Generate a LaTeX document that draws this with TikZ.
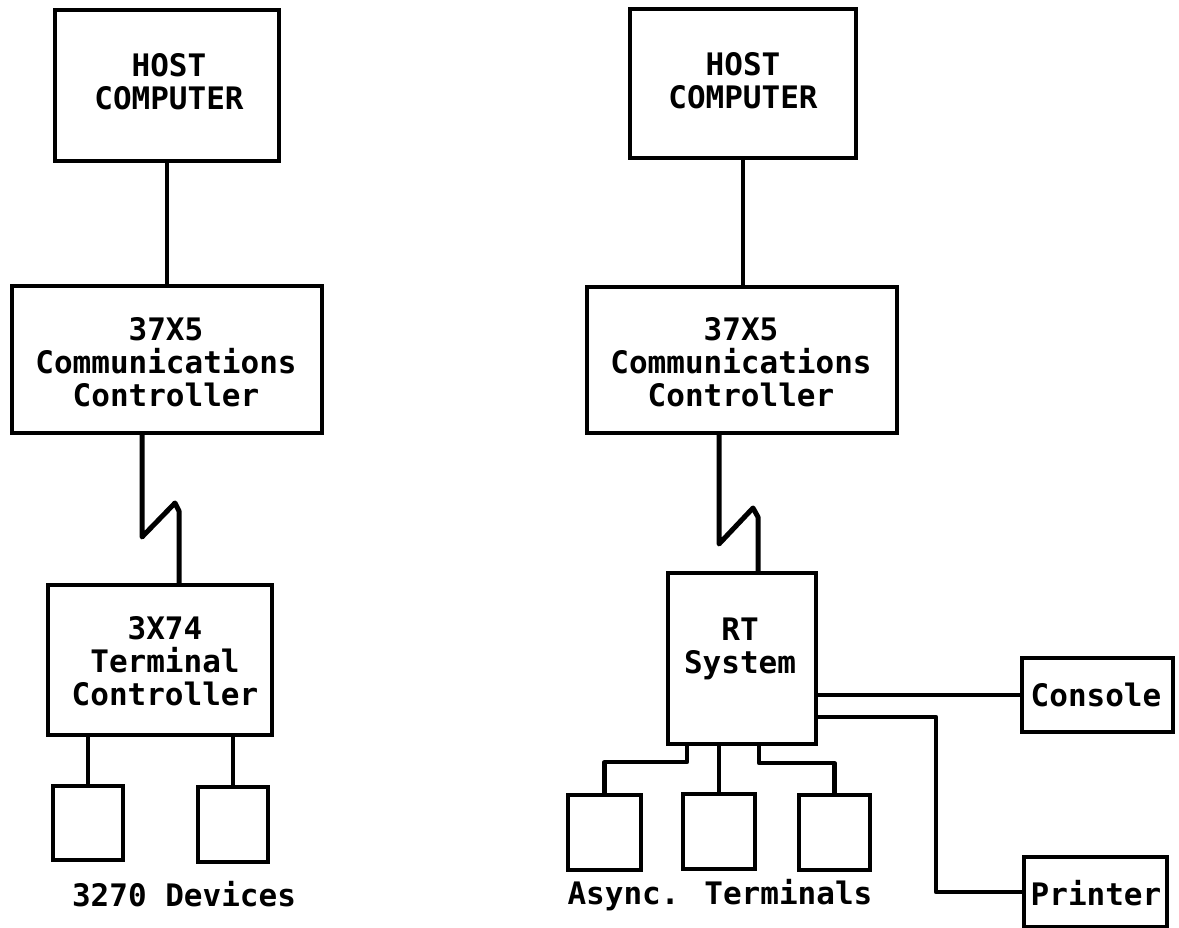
\documentclass[tikz,border=0pt]{standalone}
\usepackage{fontspec}
\newfontfamily\labelfont{DejaVu Sans Mono Bold}
\usetikzlibrary{calc}
\begin{document}
\begin{tikzpicture}[x=1pt,y=-1pt,
  box/.style={draw=black,line width=4pt,inner sep=0pt,anchor=center},
  txt/.style={inner sep=0pt,align=center,font=\labelfont\fontsize{31}{33}\selectfont},
  wire/.style={draw=black,line width=4.2pt,line join=round,line cap=round},
  zig/.style={wire,line width=5pt}]
\useasboundingbox (0,0) rectangle (1179,928);
\newcommand{\boxat}[5]{\node[box,minimum width=#3pt-#2pt,minimum height=#5pt-#4pt] (#1) at ({(#2+#3)/2},{(#4+#5)/2}) {};}
\boxat{h1}{55}{279}{10}{161}
\boxat{c1}{12}{322}{286}{433}
\boxat{t1}{48}{272}{585}{735}
\boxat{d1}{53}{123}{786}{860}
\boxat{d2}{198}{268}{787}{862}
\boxat{h2}{630}{856}{9}{158}
\boxat{c2}{587}{897}{287}{433}
\boxat{rt}{668}{816}{573}{744}
\boxat{a1}{568}{641}{795}{870}
\boxat{a2}{683}{755}{794}{869}
\boxat{a3}{799}{870}{795}{870}
\boxat{con}{1022}{1173}{658}{732}
\boxat{pri}{1024}{1167}{857}{927}
\node[txt] (h1t) at (169,82) {HOST\\COMPUTER};
\node[txt] (h2t) at (743,81) {HOST\\COMPUTER};
\node[txt] (c1t) at (166,362) {37X5\\Communications\\Controller};
\node[txt] (c2t) at (741,362) {37X5\\Communications\\Controller};
\node[txt] (t1t) at (165,661) {3X74\\Terminal\\Controller};
\node[txt] (rtt) at (740,648.5) {RT\\System};
\node[txt] (cont) at (1096,695) {Console};
\node[txt] (prit) at (1096,893) {Printer};
\node[txt] (l1) at (184,894) {3270 Devices};
\node[txt] (l2) at (720,895) {Async. Terminals};
% host to controller
\draw[wire] (h1.south) -- (c1.north);
\draw[wire] (h2.south) -- (h2.south |- c2.north);
% zigzag links
\coordinate (z1a) at (142,537); \coordinate (z1b) at (175,503); \coordinate (z1c) at (179,511);
\draw[zig] (z1a |- c1.south) -- (z1a) -- (z1b) -- (z1c) -- (z1c |- t1.north);
\coordinate (z2a) at (719,544); \coordinate (z2b) at (753,508); \coordinate (z2c) at (758,517);
\draw[zig] (z2a |- c2.south) -- (z2a) -- (z2b) -- (z2c) -- (z2c |- rt.north);
% devices
\draw[wire] (d1.north |- t1.south) -- (d1.north);
\draw[wire] (d2.north |- t1.south) -- (d2.north);
% async terminals
\coordinate (e1) at (687,762);
\coordinate (e3) at (759,763);
\draw[wire] (e1 |- rt.south) -- (e1) -- (e1 -| a1.north) -- (a1.north);
\draw[wire] (a2.north |- rt.south) -- (a2.north);
\draw[wire] (e3 |- rt.south) -- (e3) -- (e3 -| a3.north) -- (a3.north);
% console and printer
\coordinate (p1) at (936,717);
\draw[wire] (rt.east |- con.west) -- (con.west);
\draw[wire] (rt.east |- p1) -- (p1) -- (p1 |- pri.west) -- (pri.west);
\end{tikzpicture}
\end{document}
